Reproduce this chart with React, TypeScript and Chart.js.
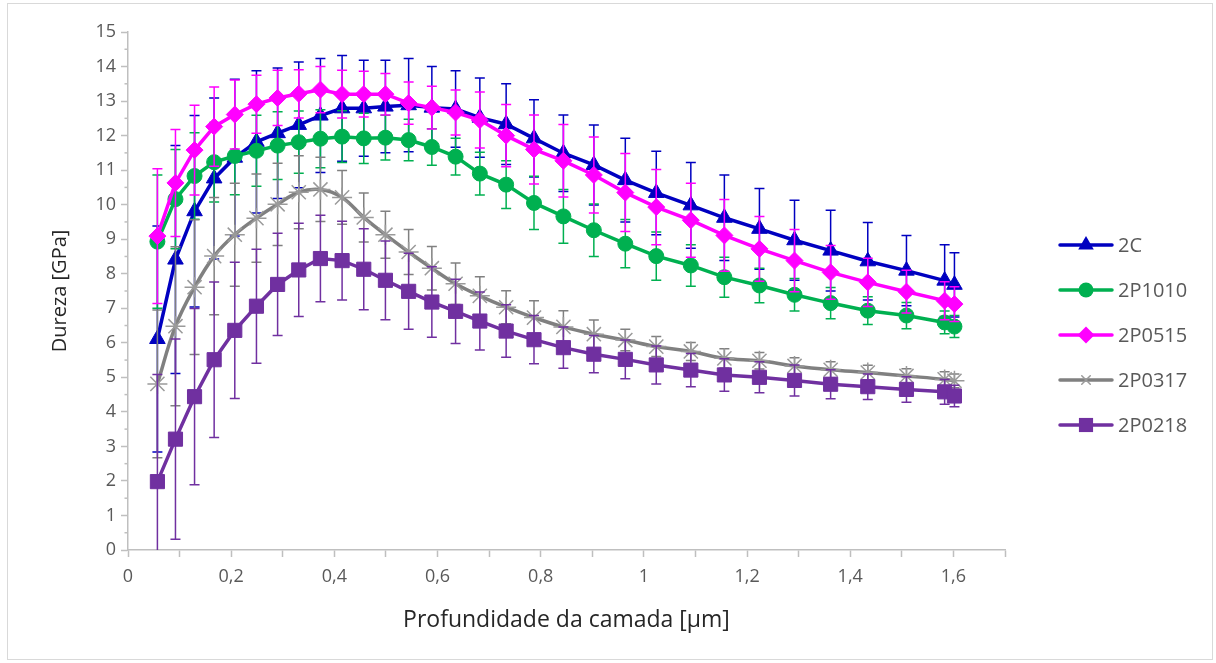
import React, { useEffect, useRef } from "react";
import { Chart, registerables } from "chart.js";

Chart.register(...registerables);

// ---------- DATA ----------
const depth = [0.057, 0.092, 0.129, 0.167, 0.207, 0.249, 0.29, 0.331, 0.373, 0.415, 0.457, 0.499, 0.544, 0.589, 0.635, 0.682, 0.733, 0.787, 0.844, 0.903, 0.964, 1.024, 1.091, 1.156, 1.224, 1.292, 1.362, 1.434, 1.509, 1.583, 1.602];

const seriesNames = ["2C", "2P1010", "2P0515", "2P0317", "2P0218"];

const dureza2C = [6.11, 8.41, 9.81, 10.76, 11.36, 11.82, 12.07, 12.31, 12.58, 12.79, 12.79, 12.84, 12.88, 12.81, 12.77, 12.52, 12.33, 11.92, 11.49, 11.15, 10.71, 10.34, 9.98, 9.62, 9.3, 8.97, 8.67, 8.36, 8.09, 7.8, 7.68];
const erro2C = [3.27, 3.3, 2.77, 2.33, 2.27, 2.06, 1.89, 1.82, 1.65, 1.53, 1.39, 1.34, 1.35, 1.19, 1.11, 1.15, 1.17, 1.12, 1.11, 1.16, 1.21, 1.21, 1.24, 1.24, 1.17, 1.16, 1.17, 1.12, 1.02, 1.04, 0.93];

const dureza2P1010 = [8.93, 10.16, 10.83, 11.23, 11.41, 11.56, 11.71, 11.81, 11.91, 11.97, 11.92, 11.94, 11.87, 11.67, 11.39, 10.9, 10.58, 10.05, 9.66, 9.26, 8.87, 8.51, 8.24, 7.9, 7.66, 7.39, 7.15, 6.93, 6.79, 6.59, 6.47];
const erro2P1010 = [1.93, 1.44, 1.25, 1.15, 1.12, 1.03, 0.98, 0.9, 0.84, 0.75, 0.73, 0.65, 0.6, 0.53, 0.53, 0.62, 0.69, 0.77, 0.78, 0.76, 0.7, 0.7, 0.6, 0.58, 0.5, 0.47, 0.45, 0.4, 0.38, 0.33, 0.32];

const dureza2P0515 = [9.09, 10.63, 11.58, 12.26, 12.61, 12.91, 13.09, 13.21, 13.33, 13.2, 13.2, 13.2, 12.94, 12.81, 12.67, 12.45, 12.0, 11.6, 11.27, 10.86, 10.35, 9.93, 9.55, 9.11, 8.72, 8.38, 8.04, 7.75, 7.48, 7.22, 7.12];
const erro2P0515 = [1.95, 1.55, 1.3, 1.15, 1.0, 0.84, 0.8, 0.7, 0.67, 0.69, 0.66, 0.6, 0.61, 0.62, 0.65, 0.81, 0.9, 1.0, 1.05, 1.1, 1.13, 1.09, 1.07, 1.04, 0.94, 0.9, 0.78, 0.7, 0.62, 0.55, 0.5];

const dureza2P0317 = [4.81, 6.48, 7.61, 8.51, 9.13, 9.61, 10.01, 10.36, 10.44, 10.21, 9.63, 9.13, 8.63, 8.16, 7.71, 7.36, 7.03, 6.73, 6.46, 6.25, 6.08, 5.89, 5.75, 5.55, 5.48, 5.33, 5.22, 5.14, 5.04, 4.94, 4.9];
const erro2P0317 = [2.14, 2.3, 1.95, 1.7, 1.49, 1.28, 1.19, 1.06, 0.93, 0.78, 0.71, 0.68, 0.65, 0.63, 0.6, 0.55, 0.48, 0.49, 0.47, 0.41, 0.31, 0.29, 0.26, 0.28, 0.24, 0.24, 0.23, 0.21, 0.21, 0.22, 0.2];

const dureza2P0218 = [1.98, 3.21, 4.44, 5.51, 6.36, 7.06, 7.69, 8.11, 8.44, 8.38, 8.13, 7.81, 7.49, 7.18, 6.91, 6.63, 6.34, 6.09, 5.86, 5.67, 5.52, 5.36, 5.21, 5.07, 5.0, 4.91, 4.8, 4.73, 4.65, 4.58, 4.46];
const erro2P0218 = [3.1, 2.9, 2.55, 2.25, 1.97, 1.65, 1.48, 1.35, 1.25, 1.14, 1.17, 1.14, 1.1, 1.02, 0.93, 0.84, 0.76, 0.7, 0.6, 0.54, 0.56, 0.55, 0.48, 0.47, 0.45, 0.45, 0.42, 0.37, 0.37, 0.36, 0.31];

const xTickLabels = ["0", "0,2", "0,4", "0,6", "0,8", "1", "1,2", "1,4", "1,6"];
const yTickLabels = ["0", "1", "2", "3", "4", "5", "6", "7", "8", "9", "10", "11", "12", "13", "14", "15"];

const xTitle = "Profundidade da camada [µm]";
const yTitle = "Dureza [GPa]";

// ---------- STYLE ----------
const FONT = "'Open Sans', 'DejaVu Sans', sans-serif";
const AXIS = "#BFBFBF";

const seriesValues = [dureza2C, dureza2P1010, dureza2P0515, dureza2P0317, dureza2P0218];
const seriesErrors = [erro2C, erro2P1010, erro2P0515, erro2P0317, erro2P0218];
const seriesStyle = [
  { line: "#0000C0", marker: "#0000C0", err: "#0000C0", point: "triangle", radius: 9, tension: 0 },
  { line: "#00B050", marker: "#00B050", err: "#00B050", point: "circle", radius: 7.5, tension: 0 },
  { line: "#FF00FF", marker: "#FF00FF", err: "#FF00FF", point: "rectRot", radius: 8.5, tension: 0 },
  { line: "#808080", marker: "#9A9A9A", err: "#808080", point: "star", radius: 10, tension: 0.4 },
  { line: "#7030A0", marker: "#7030A0", err: "#7030A0", point: "rect", radius: 10, tension: 0 },
];

function drawMarker(ctx: CanvasRenderingContext2D, style: string, x: number, y: number, r: number, fill: string) {
  ctx.save();
  ctx.fillStyle = fill;
  ctx.strokeStyle = fill;
  ctx.beginPath();
  if (style === "triangle") {
    for (let k = 0; k < 3; k++) {
      const a = (k * 2 * Math.PI) / 3;
      const px = x + Math.sin(a) * r;
      const py = y - Math.cos(a) * r;
      if (k === 0) ctx.moveTo(px, py);
      else ctx.lineTo(px, py);
    }
    ctx.closePath();
    ctx.fill();
  } else if (style === "circle") {
    ctx.arc(x, y, r, 0, Math.PI * 2);
    ctx.fill();
  } else if (style === "rectRot") {
    ctx.moveTo(x - r, y);
    ctx.lineTo(x, y - r);
    ctx.lineTo(x + r, y);
    ctx.lineTo(x, y + r);
    ctx.closePath();
    ctx.fill();
  } else if (style === "rect") {
    const s = r * Math.SQRT1_2;
    ctx.rect(x - s, y - s, 2 * s, 2 * s);
    ctx.fill();
  } else if (style === "star") {
    ctx.lineWidth = 1.5;
    const d = r * Math.SQRT1_2;
    ctx.moveTo(x - d, y - d);
    ctx.lineTo(x + d, y + d);
    ctx.moveTo(x - d, y + d);
    ctx.lineTo(x + d, y - d);
    ctx.stroke();
  }
  ctx.restore();
}

const errorBarPlugin = {
  id: "errorBars",
  beforeDatasetDraw(chart: any, args: any) {
    const ds: any = chart.data.datasets[args.index];
    const errs: number[] = ds.errors;
    if (!errs) return;
    const xs = chart.scales.x;
    const ys = chart.scales.y;
    const ctx: CanvasRenderingContext2D = chart.ctx;
    const a = chart.chartArea;
    ctx.save();
    ctx.beginPath();
    ctx.rect(a.left, a.top, a.right - a.left, a.bottom - a.top);
    ctx.clip();
    ctx.strokeStyle = ds.errorColor;
    ctx.lineWidth = 1.5;
    ds.data.forEach((p: any, i: number) => {
      const px = xs.getPixelForValue(p.x);
      const top = ys.getPixelForValue(p.y + errs[i]);
      const bot = ys.getPixelForValue(p.y - errs[i]);
      ctx.beginPath();
      ctx.moveTo(px, top);
      ctx.lineTo(px, bot);
      ctx.moveTo(px - 5, top);
      ctx.lineTo(px + 5, top);
      ctx.moveTo(px - 5, bot);
      ctx.lineTo(px + 5, bot);
      ctx.stroke();
    });
    ctx.restore();
  },
};

const minorTickPlugin = {
  id: "minorTicks",
  afterDraw(chart: any) {
    const ys = chart.scales.y;
    const ctx: CanvasRenderingContext2D = chart.ctx;
    const left = chart.chartArea.left;
    ctx.save();
    ctx.strokeStyle = AXIS;
    ctx.lineWidth = 1.5;
    for (let v = 0.5; v < 15; v += 1) {
      const y = ys.getPixelForValue(v);
      ctx.beginPath();
      ctx.moveTo(left - 3.5, y);
      ctx.lineTo(left, y);
      ctx.stroke();
    }
    ctx.restore();
  },
};

const legendPlugin = {
  id: "customLegend",
  afterDraw(chart: any) {
    const ctx: CanvasRenderingContext2D = chart.ctx;
    ctx.save();
    seriesNames.forEach((name, i) => {
      const st = seriesStyle[i];
      const y = 245 + i * 45;
      ctx.strokeStyle = st.line;
      ctx.lineWidth = 3.5;
      ctx.lineCap = "round";
      ctx.beginPath();
      ctx.moveTo(1060, y);
      ctx.lineTo(1112, y);
      ctx.stroke();
      drawMarker(ctx, st.point, 1086, y, st.point === "star" ? 6 : st.radius, st.marker);
      ctx.fillStyle = "#595959";
      ctx.font = `20px ${FONT}`;
      ctx.textBaseline = "middle";
      ctx.textAlign = "left";
      ctx.fillText(name, 1118, y + 1);
    });
    ctx.restore();
  },
};

export default function App() {
  const ref = useRef<HTMLCanvasElement>(null);

  useEffect(() => {
    const datasets = seriesNames.map((name, i) => {
      const st = seriesStyle[i];
      return {
        label: name,
        data: depth.map((x, j) => ({ x, y: seriesValues[i][j] })),
        errors: seriesErrors[i],
        errorColor: st.err,
        showLine: true,
        borderColor: st.line,
        backgroundColor: st.marker,
        borderWidth: 3.5,
        pointStyle: st.point,
        pointRadius: st.radius,
        pointHoverRadius: st.radius,
        pointBackgroundColor: st.marker,
        pointBorderColor: st.marker,
        pointBorderWidth: st.point === "star" ? 1.5 : 1,
        tension: st.tension,
        order: seriesNames.length - i,
      } as any;
    });

    const chart = new Chart(ref.current!, {
      type: "scatter",
      data: { datasets },
      options: {
        animation: false,
        responsive: false,
        devicePixelRatio: 1,
        layout: { padding: { left: 0, top: 32, right: 211, bottom: 0 } },
        plugins: { legend: { display: false }, tooltip: { enabled: false } },
        scales: {
          x: {
            type: "linear",
            min: 0,
            max: 1.7,
            afterFit: (s: any) => {
              s.height = 113;
            },
            ticks: {
              stepSize: 0.1,
              autoSkip: false,
              maxRotation: 0,
              padding: 9,
              color: "#595959",
              font: { family: FONT, size: 18 },
              callback: (v: any) => {
                const k = Math.round(Number(v) * 10);
                return k % 2 === 0 && k / 2 < xTickLabels.length ? xTickLabels[k / 2] : "";
              },
            },
            grid: { drawOnChartArea: false, drawTicks: true, tickLength: 7, tickColor: AXIS, tickWidth: 1.5 },
            border: { display: true, color: AXIS, width: 1.5 },
            title: {
              display: true,
              text: xTitle,
              color: "#262626",
              font: { family: FONT, size: 23 },
              padding: { top: 0, bottom: 29 },
            },
          },
          y: {
            type: "linear",
            min: 0,
            max: 15,
            afterFit: (s: any) => {
              s.width = 128;
            },
            ticks: {
              stepSize: 1,
              padding: 5,
              color: "#595959",
              font: { family: FONT, size: 18 },
              callback: (v: any) => yTickLabels[Math.round(Number(v))] ?? "",
            },
            grid: { drawOnChartArea: false, drawTicks: true, tickLength: 7, tickColor: AXIS, tickWidth: 1.5 },
            border: { display: true, color: AXIS, width: 1.5 },
            title: {
              display: true,
              text: yTitle,
              color: "#262626",
              font: { family: FONT, size: 20 },
              padding: { top: 48, bottom: 0 },
            },
          },
        },
      },
      plugins: [errorBarPlugin, minorTickPlugin, legendPlugin],
    } as any);

    return () => chart.destroy();
  }, []);

  return (
    <div style={{ position: "absolute", left: 0, top: 0, width: 1216, height: 663, background: "#fff" }}>
      <div
        style={{
          position: "absolute",
          left: 7,
          top: 3,
          width: 1206,
          height: 657,
          border: "1px solid #D9D9D9",
          boxSizing: "border-box",
        }}
      />
      <canvas
        ref={ref}
        width={1216}
        height={663}
        style={{ position: "absolute", left: 0, top: 0, width: 1216, height: 663 }}
      />
    </div>
  );
}
